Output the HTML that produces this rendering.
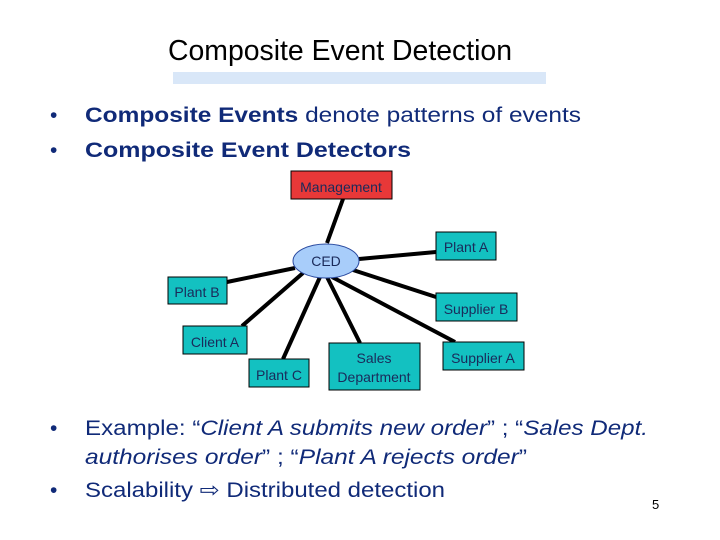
<!DOCTYPE html>
<html><head><meta charset="utf-8"><style>
html,body{margin:0;padding:0;background:#fff}
svg{display:block}
text{font-family:"Liberation Sans",sans-serif}
</style></head><body>
<svg width="720" height="540" viewBox="0 0 720 540" xmlns="http://www.w3.org/2000/svg">
<text x="168" y="60" font-size="29" fill="#000" textLength="344" lengthAdjust="spacingAndGlyphs">Composite Event Detection</text>
<rect x="173" y="72" width="373" height="12" fill="#d9e7f8"/>
<g fill="#102a78" font-size="21">
<text x="50" y="122">•</text>
<text x="85" y="122" textLength="496" lengthAdjust="spacingAndGlyphs"><tspan font-weight="bold">Composite Events</tspan> denote patterns of events</text>
<text x="50" y="157">•</text>
<text x="85" y="157" font-weight="bold" textLength="326" lengthAdjust="spacingAndGlyphs">Composite Event Detectors</text>
<text x="50" y="435">•</text>
<text x="85" y="435" textLength="563" lengthAdjust="spacingAndGlyphs">Example: “<tspan font-style="italic">Client A submits new order</tspan>” ; “<tspan font-style="italic">Sales Dept.</tspan></text>
<text x="85" y="464" textLength="442" lengthAdjust="spacingAndGlyphs"><tspan font-style="italic">authorises order</tspan>” ; “<tspan font-style="italic">Plant A rejects order</tspan>”</text>
<text x="50" y="497">•</text>
<text x="85" y="497" textLength="360" lengthAdjust="spacingAndGlyphs">Scalability ⇨ Distributed detection</text>
</g>
<text x="652" y="509" font-size="13" fill="#000">5</text>
<g stroke="#000" stroke-width="4">
<line x1="343" y1="199" x2="327" y2="243"/>
<line x1="359" y1="259" x2="436" y2="252"/>
<line x1="227" y1="282" x2="295" y2="268"/>
<line x1="242" y1="326" x2="303" y2="273"/>
<line x1="283" y1="359" x2="320" y2="277"/>
<line x1="360" y1="343" x2="327" y2="277"/>
<line x1="436" y1="297" x2="353" y2="270"/>
<line x1="455" y1="342" x2="332" y2="277"/>
</g>
<g stroke="#000" stroke-width="1" fill="#13c1c1">
<rect x="291" y="171" width="101" height="28" fill="#e83838"/>
<rect x="436" y="232" width="60" height="28"/>
<rect x="168" y="277" width="59" height="27"/>
<rect x="436" y="293" width="81" height="28"/>
<rect x="183" y="326" width="64" height="28"/>
<rect x="249" y="359" width="60" height="28"/>
<rect x="329" y="343" width="91" height="47"/>
<rect x="443" y="342" width="81" height="28"/>
<ellipse cx="326" cy="261" rx="33" ry="17" fill="#a8cdfa" stroke="#2a4aa0"/>
</g>
<g font-size="14" fill="#1a2a5a" text-anchor="middle">
<text x="341" y="192">Management</text>
<text x="466" y="252">Plant A</text>
<text x="326" y="266">CED</text>
<text x="197" y="297">Plant B</text>
<text x="476" y="314">Supplier B</text>
<text x="215" y="347">Client A</text>
<text x="279" y="380">Plant C</text>
<text x="374" y="363">Sales</text>
<text x="374" y="382">Department</text>
<text x="483" y="363">Supplier A</text>
</g>
</svg>
</body></html>
